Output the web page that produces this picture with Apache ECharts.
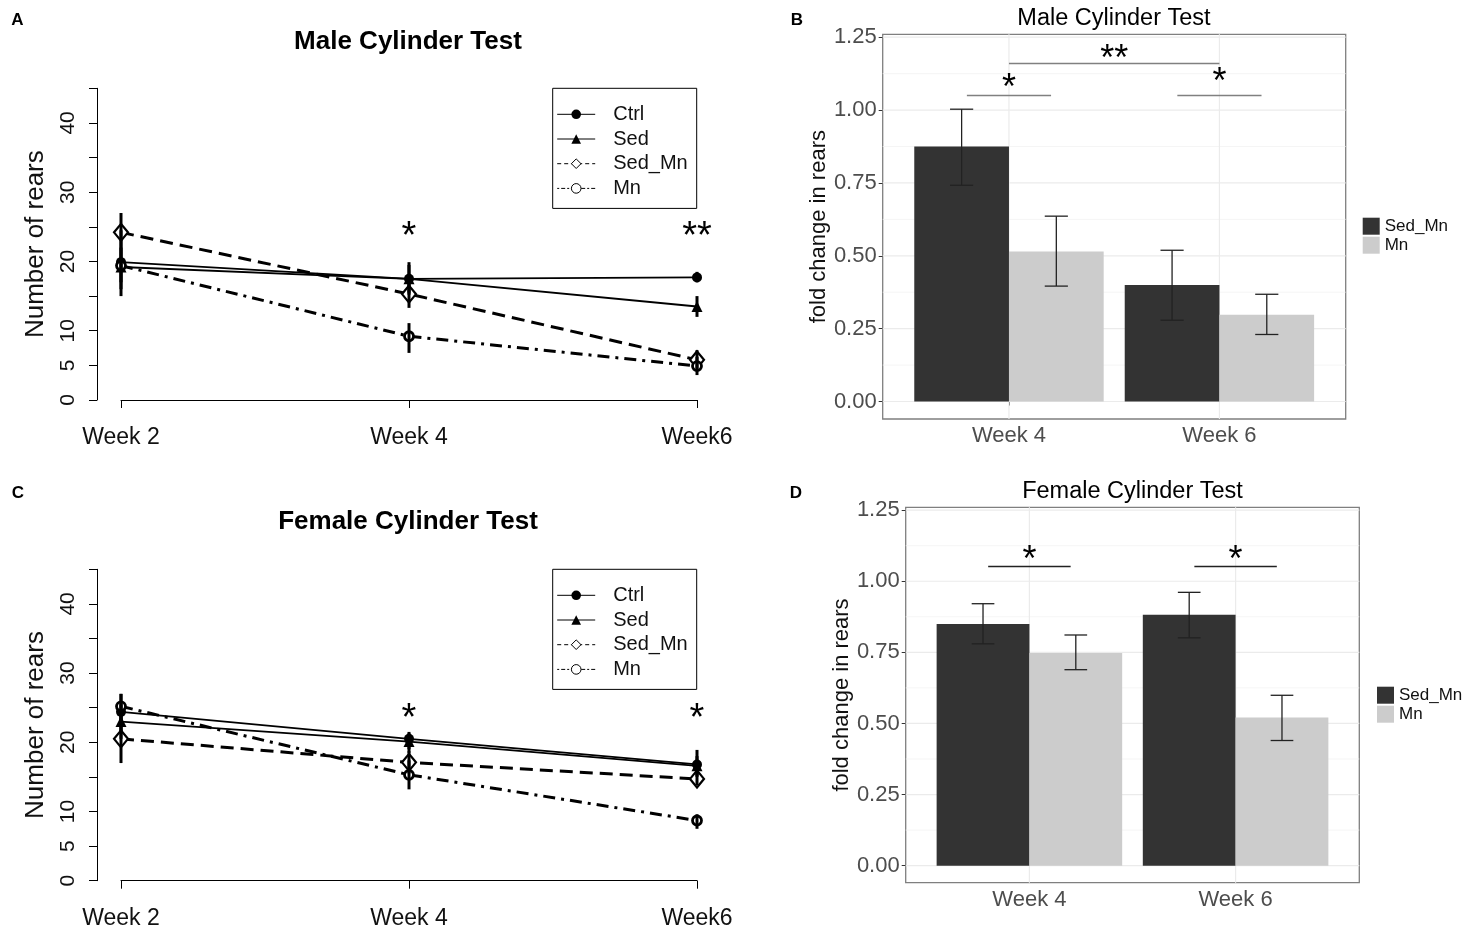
<!DOCTYPE html>
<html><head><meta charset="utf-8">
<script src="https://cdn.jsdelivr.net/npm/echarts@6/dist/echarts.min.js"></script>
<style>html,body{margin:0;padding:0;background:#fff}#c{width:1466px;height:926px}</style>
</head><body><div id="c"></div>
<script>
// ---------------- DATA ----------------
const weeks = ['Week 2', 'Week 4', 'Week6'];
const lineGroups = ['Ctrl', 'Sed', 'Sed_Mn', 'Mn'];
const yTicksLine = [0, 5, 10, 20, 30, 40];

// Panel A : Male
const maleCtrl  = [19.9, 17.5, 17.7];
const maleSed   = [19.2, 17.5, 13.5];
const maleSedMn = [24.2, 15.3, 5.8];
const maleMn    = [19.4, 9.2, 4.9];
const maleCtrlErr  = [[15.0, 24.5], [15.2, 19.9], [17.0, 18.5]];
const maleSedErr   = [[16.0, 22.0], [15.5, 19.5], [12.0, 15.0]];
const maleSedMnErr = [[21.5, 27.0], [13.3, 17.3], [4.5, 7.2]];
const maleMnErr    = [[17.0, 21.5], [6.8, 11.1], [3.6, 6.2]];
const maleSigText = ['', '*', '**'];
const maleSigY    = [null, 24.7, 24.7];

// Panel C : Female
const femCtrl  = [24.4, 20.5, 16.8];
const femSed   = [23.0, 20.1, 16.6];
const femSedMn = [20.5, 17.1, 14.7];
const femMn    = [25.2, 15.3, 8.7];
const femCtrlErr  = [[21.5, 27.0], [19.0, 21.5], [15.0, 18.9]];
const femSedErr   = [[20.5, 25.5], [18.5, 21.3], [15.2, 18.0]];
const femSedMnErr = [[17.0, 24.0], [15.5, 18.7], [13.8, 15.5]];
const femMnErr    = [[23.0, 27.0], [13.2, 17.4], [7.5, 9.6]];
const femSigText = ['', '*', '*'];
const femSigY    = [null, 24.6, 24.6];

// Panels B / D : fold change bars
const barCats  = ['Week 4', 'Week 6'];
const barTicks = [0, 0.25, 0.5, 0.75, 1.0, 1.25];
const barMinor = [0.125, 0.375, 0.625, 0.875, 1.125];
const barGroups = ['Sed_Mn', 'Mn'];
const maleBarSedMn = [0.875, 0.400];
const maleBarSedMnErr = [[0.742, 1.003], [0.279, 0.519]];
const maleBarMn = [0.515, 0.298];
const maleBarMnErr = [[0.396, 0.636], [0.230, 0.368]];
const femBarSedMn = [0.850, 0.882];
const femBarSedMnErr = [[0.780, 0.921], [0.801, 0.961]];
const femBarMn = [0.748, 0.521];
const femBarMnErr = [[0.689, 0.811], [0.440, 0.599]];
const maleBarSigLines = [[0.8, 1.2, 1.05], [1.8, 2.2, 1.05], [1.0, 2.0, 1.16]];
const maleBarSigText  = [[1.0, 1.10, '*'], [2.0, 1.12, '*'], [1.5, 1.20, '**']];
const femBarSigLines  = [[0.8, 1.2, 1.052], [1.8, 2.2, 1.052]];
const femBarSigText   = [[1.0, 1.10, '*'], [2.0, 1.10, '*']];

// ---------------- STYLE / LAYOUT ----------------
const FONT = '"Liberation Sans", Arial, Helvetica, sans-serif';
const GA = {left: 121, top: 88.3, width: 576, height: 311.7};
const GC = {left: 121, top: 569.3, width: 576, height: 311.4};
const GB = {left: 882.7, top: 34.3, width: 463, height: 384.7};
const GD = {left: 905.7, top: 507.3, width: 453.6, height: 375.4};
const BX = [0.4, 2.6], BY = [-0.06, 1.26];
const DODGE = 0.225, BARW = 0.45, CAP = 0.11;

const lineSt = {
  Ctrl:   {symbol: 'circle',   size: 10, fill: '#000', bw: 0,   width: 1.8, dash: 'solid', z: 3},
  Sed:    {symbol: 'triangle', size: 11, fill: '#000', bw: 0,   width: 1.8, dash: 'solid', z: 3},
  Sed_Mn: {symbol: 'diamond',  size: [14, 17], fill: '#fff', bw: 2.2, width: 3, dash: [13, 7], z: 4},
  Mn:     {symbol: 'circle',   size: 9, fill: '#fff', bw: 2.8, width: 3, dash: [12, 6, 3, 6], z: 4}
};

function lineX(gi) {
  return {type: 'category', gridIndex: gi, data: weeks, boundaryGap: false, offset: 13.3,
    axisLine: {show: true, lineStyle: {color: '#000', width: 1}},
    axisTick: {show: true, length: 8, lineStyle: {color: '#000', width: 1}},
    axisLabel: {fontFamily: FONT, fontSize: 23, color: '#111', margin: 13, interval: 0},
    splitLine: {show: false}};
}
function lineY(gi) {
  return {type: 'value', gridIndex: gi, min: 0, max: 45, interval: 5, offset: 24,
    name: 'Number of rears', nameLocation: 'middle', nameGap: 48,
    nameTextStyle: {fontFamily: FONT, fontSize: 26, color: '#111'},
    axisLine: {show: true, lineStyle: {color: '#000', width: 1}},
    axisTick: {show: true, length: 8, lineStyle: {color: '#000', width: 1}},
    axisLabel: {rotate: 90, margin: 18, fontFamily: FONT, fontSize: 21, color: '#111',
      formatter: v => yTicksLine.indexOf(v) >= 0 ? String(v) : ''},
    splitLine: {show: false}};
}
function barX(gi) {
  return {type: 'value', gridIndex: gi, min: BX[0], max: BX[1],
    axisLine: {show: false},
    axisTick: {show: true, length: 4, customValues: [1, 2], lineStyle: {color: '#333', width: 1}},
    axisLabel: {customValues: [1, 2], formatter: v => barCats[Math.round(v) - 1] || '',
      fontFamily: FONT, fontSize: 22, color: '#4d4d4d', margin: 6},
    splitLine: {show: false}};
}
function barY(gi) {
  return {type: 'value', gridIndex: gi, min: BY[0], max: BY[1],
    name: 'fold change in rears', nameLocation: 'middle', nameGap: 47,
    nameTextStyle: {fontFamily: FONT, fontSize: 22, color: '#111'},
    axisLine: {show: false},
    axisTick: {show: true, length: 4, customValues: barTicks, lineStyle: {color: '#333', width: 1}},
    axisLabel: {customValues: barTicks, formatter: v => Number(v).toFixed(2),
      fontFamily: FONT, fontSize: 22, color: '#4d4d4d', margin: 6},
    splitLine: {show: false}};
}

function lineSeries(gi, name, values) {
  const st = lineSt[name];
  return {type: 'line', name: name, xAxisIndex: gi, yAxisIndex: gi, data: values,
    symbol: st.symbol, symbolSize: st.size, clip: false, animation: false, z: st.z,
    lineStyle: {color: '#000', width: st.width, type: st.dash},
    itemStyle: {color: st.fill, borderColor: '#000', borderWidth: st.bw},
    emphasis: {disabled: true}};
}
function lineErrSeries(gi, errs) {
  const data = [];
  errs.forEach(e => e.forEach((lh, i) => data.push([i, lh[0], lh[1]])));
  return {type: 'custom', xAxisIndex: gi, yAxisIndex: gi, z: 6, animation: false, silent: true,
    encode: {x: 0, y: [1, 2]}, data: data,
    renderItem: (p, api) => {
      const a = api.coord([api.value(0), api.value(1)]);
      const b = api.coord([api.value(0), api.value(2)]);
      return {type: 'line', shape: {x1: a[0], y1: a[1], x2: b[0], y2: b[1]},
        style: {stroke: '#000', lineWidth: 3}};
    }};
}
function textSeries(gi, data, labels, fs, color) {
  return {type: 'custom', xAxisIndex: gi, yAxisIndex: gi, z: 7, animation: false, silent: true,
    encode: {x: 0, y: 1}, data: data,
    renderItem: (p, api) => {
      const lab = labels[p.dataIndex];
      if (!lab) return null;
      const c = api.coord([api.value(0), api.value(1)]);
      return {type: 'text', x: c[0], y: c[1] + 0.235 * fs,
        style: {text: lab, font: fs + 'px ' + FONT, fill: color,
          align: 'center', verticalAlign: 'middle', textAlign: 'center', textVerticalAlign: 'middle'}};
    }};
}
function gridLineSeries(gi) {
  const data = [];
  barTicks.forEach(v => data.push([BX[0], v, BX[1], v, 0]));
  barMinor.forEach(v => data.push([BX[0], v, BX[1], v, 1]));
  [1, 2].forEach(v => data.push([v, BY[0], v, BY[1], 0]));
  return {type: 'custom', xAxisIndex: gi, yAxisIndex: gi, z: 1, animation: false, silent: true,
    encode: {x: [0, 2], y: [1, 3]}, data: data,
    renderItem: (p, api) => {
      const a = api.coord([api.value(0), api.value(1)]);
      const b = api.coord([api.value(2), api.value(3)]);
      const minor = api.value(4) === 1;
      return {type: 'line', shape: {x1: a[0], y1: a[1], x2: b[0], y2: b[1]},
        style: {stroke: minor ? '#F2F2F2' : '#EBEBEB', lineWidth: minor ? 0.8 : 1.2}};
    }};
}
function barSeries(gi, name, values, offset, color) {
  const pxPerUnit = (gi === 2 ? GB.width : GD.width) / (BX[1] - BX[0]);
  return {type: 'bar', name: name + ' ', xAxisIndex: gi, yAxisIndex: gi, z: 3, animation: false,
    barWidth: BARW * pxPerUnit, barGap: '-100%',
    itemStyle: {color: color}, emphasis: {disabled: true},
    data: values.map((v, i) => [i + 1 + offset, v])};
}
function barErrSeries(gi, errs, offset) {
  return {type: 'custom', xAxisIndex: gi, yAxisIndex: gi, z: 5, animation: false, silent: true,
    encode: {x: 0, y: [1, 2]}, data: errs.map((e, i) => [i + 1 + offset, e[0], e[1]]),
    renderItem: (p, api) => {
      const x = api.value(0), lo = api.value(1), hi = api.value(2);
      const a = api.coord([x, lo]), b = api.coord([x, hi]);
      const l1 = api.coord([x - CAP / 2, lo]), r1 = api.coord([x + CAP / 2, lo]);
      const l2 = api.coord([x - CAP / 2, hi]), r2 = api.coord([x + CAP / 2, hi]);
      const st = {stroke: '#222', lineWidth: 1.3};
      return {type: 'group', children: [
        {type: 'line', shape: {x1: a[0], y1: a[1], x2: b[0], y2: b[1]}, style: st},
        {type: 'line', shape: {x1: l1[0], y1: l1[1], x2: r1[0], y2: r1[1]}, style: st},
        {type: 'line', shape: {x1: l2[0], y1: l2[1], x2: r2[0], y2: r2[1]}, style: st}]};
    }};
}
function sigLineSeries(gi, lines, color) {
  return {type: 'custom', xAxisIndex: gi, yAxisIndex: gi, z: 6, animation: false, silent: true,
    encode: {x: [0, 1], y: 2}, data: lines,
    renderItem: (p, api) => {
      const a = api.coord([api.value(0), api.value(2)]);
      const b = api.coord([api.value(1), api.value(2)]);
      return {type: 'line', shape: {x1: a[0], y1: a[1], x2: b[0], y2: b[1]},
        style: {stroke: color, lineWidth: 1.5}};
    }};
}

function lineLegend(top) {
  return {orient: 'vertical', left: 552.7, top: top, itemWidth: 38, itemHeight: 12, itemGap: 4.7,
    padding: [16, 9, 10, 4], borderColor: '#000', borderWidth: 1, borderRadius: 0,
    selectedMode: false,
    textStyle: {fontFamily: FONT, fontSize: 20, color: '#111', padding: [0, 0, 0, 13]},
    lineStyle: {width: 1},
    data: [
      {name: 'Ctrl'},
      {name: 'Sed'},
      {name: 'Sed_Mn', lineStyle: {type: [4, 3], width: 1}, itemStyle: {borderWidth: 1}},
      {name: 'Mn', lineStyle: {type: [2, 2, 4, 2], width: 1}, itemStyle: {borderWidth: 1}}
    ]};
}
function barLegend(left, top) {
  return {orient: 'vertical', left: left, top: top, itemWidth: 17, itemHeight: 17, itemGap: 2,
    padding: 0, icon: 'rect', selectedMode: false,
    formatter: n => n.trim(),
    textStyle: {fontFamily: FONT, fontSize: 17, color: '#111'},
    data: barGroups.map(g => g + ' ')};
}

function txt(t, x, y, size, weight) {
  return {type: 'text', x: x, y: y, silent: true,
    style: {text: t, font: (weight || 'normal') + ' ' + size + 'px ' + FONT, fill: '#000',
      align: 'center', verticalAlign: 'middle', textAlign: 'center', textVerticalAlign: 'middle'}};
}

const maleVals = {Ctrl: maleCtrl, Sed: maleSed, Sed_Mn: maleSedMn, Mn: maleMn};
const femVals = {Ctrl: femCtrl, Sed: femSed, Sed_Mn: femSedMn, Mn: femMn};

const series = [];
lineGroups.forEach(g => series.push(lineSeries(0, g, maleVals[g])));
lineGroups.forEach(g => series.push(lineSeries(1, g, femVals[g])));
series.push(lineErrSeries(0, [maleCtrlErr, maleSedErr, maleSedMnErr, maleMnErr]));
series.push(lineErrSeries(1, [femCtrlErr, femSedErr, femSedMnErr, femMnErr]));
series.push(textSeries(0, maleSigY.map((y, i) => [i, y == null ? 0 : y]), maleSigText, 38, '#000'));
series.push(textSeries(1, femSigY.map((y, i) => [i, y == null ? 0 : y]), femSigText, 38, '#000'));

series.push(gridLineSeries(2));
series.push(gridLineSeries(3));
series.push(barSeries(2, 'Sed_Mn', maleBarSedMn, -DODGE, '#333333'));
series.push(barSeries(2, 'Mn', maleBarMn, DODGE, '#CCCCCC'));
series.push(barSeries(3, 'Sed_Mn', femBarSedMn, -DODGE, '#333333'));
series.push(barSeries(3, 'Mn', femBarMn, DODGE, '#CCCCCC'));
series.push(barErrSeries(2, maleBarSedMnErr, -DODGE));
series.push(barErrSeries(2, maleBarMnErr, DODGE));
series.push(barErrSeries(3, femBarSedMnErr, -DODGE));
series.push(barErrSeries(3, femBarMnErr, DODGE));
series.push(sigLineSeries(2, maleBarSigLines, '#808080'));
series.push(sigLineSeries(3, femBarSigLines, '#222'));
series.push(textSeries(2, maleBarSigText.map(d => [d[0], d[1]]), maleBarSigText.map(d => d[2]), 36, '#000'));
series.push(textSeries(3, femBarSigText.map(d => [d[0], d[1]]), femBarSigText.map(d => d[2]), 36, '#000'));

const chart = echarts.init(document.getElementById('c'), null, {renderer: 'canvas'});
chart.setOption({
  animation: false,
  backgroundColor: '#fff',
  grid: [
    Object.assign({outerBoundsMode: 'none', containLabel: false}, GA),
    Object.assign({outerBoundsMode: 'none', containLabel: false}, GC),
    Object.assign({outerBoundsMode: 'none', containLabel: false, show: true, borderColor: '#7f7f7f', borderWidth: 1.3, backgroundColor: 'transparent'}, GB),
    Object.assign({outerBoundsMode: 'none', containLabel: false, show: true, borderColor: '#7f7f7f', borderWidth: 1.3, backgroundColor: 'transparent'}, GD)
  ],
  xAxis: [lineX(0), lineX(1), barX(2), barX(3)],
  yAxis: [lineY(0), lineY(1), barY(2), barY(3)],
  legend: [lineLegend(88.3), lineLegend(569.3), barLegend(1362.7, 217.7), barLegend(1377, 686.7)],
  tooltip: {show: false},
  graphic: [
    txt('A', 17.5, 20, 17, 'bold'),
    txt('B', 797, 20, 17, 'bold'),
    txt('C', 18, 493, 17, 'bold'),
    txt('D', 796, 493, 17, 'bold'),
    txt('Male Cylinder Test', 408, 42, 26, 'bold'),
    txt('Female Cylinder Test', 408, 522, 26, 'bold'),
    txt('Male Cylinder Test', 1114, 19, 23.5),
    txt('Female Cylinder Test', 1132.5, 492, 23.5)
  ],
  series: series
});
</script>
</body></html>
